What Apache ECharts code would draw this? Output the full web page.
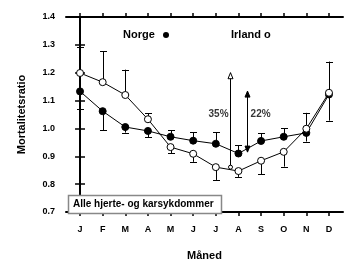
<!DOCTYPE html>
<html>
<head>
<meta charset="utf-8">
<script src="https://cdn.jsdelivr.net/npm/echarts@6/dist/echarts.min.js"></script>
<style>
  html, body { margin: 0; padding: 0; background: #fff; }
  #chart { width: 353px; height: 266px; }
</style>
</head>
<body>
<div id="chart"></div>
<script>
// måneder
const months = ['J', 'F', 'M', 'A', 'M', 'J', 'J', 'A', 'S', 'O', 'N', 'D'];
const monthIdx = [0, 1, 2, 3, 4, 5, 6, 7, 8, 9, 10, 11];

// mortalitetsratio pr. måned
const norge  = [1.133, 1.062, 1.005, 0.991, 0.970, 0.956, 0.945, 0.910, 0.955, 0.970, 0.984, 1.122];
const irland = [1.199, 1.166, 1.120, 1.033, 0.933, 0.909, 0.861, 0.847, 0.884, 0.916, 0.999, 1.128];

// endepunkt for feilstolper (ensidig, unntatt desember)
const norgeErr  = [1.068, 0.993, 0.985, 0.968, 0.993, 0.987, 0.987, 0.939, 0.982, 1.001, 0.953, 1.028];
const irlandErr = [1.292, 1.277, 1.211, 1.054, 0.910, 0.880, 0.815, 0.826, 0.836, 0.863, 1.056, 1.240];

// piler: [x, fra, til]
const arrowOpen   = [[6.62, 0.861, 1.200]];
const arrowFilled = [[7.36, 0.915, 1.134]];

// prosenttekster: [x, y, tekst]
const pctLabels = [[6.12, 1.050, '35%'], [7.98, 1.050, '22%']];

const chart = echarts.init(document.getElementById('chart'));

const errData = (vals, ends) => vals.map((v, i) => [monthIdx[i], v, ends[i]]);

// halv piksel for skarpe 1px-linjer
const crisp = v => Math.round(v) + 0.5;

/**
 * tegner en feilstolpe med tverrstrek på enden
 */
function renderErr(params, api) {
  const x = api.value(0);
  const p1 = api.coord([x, api.value(1)]);
  const p2 = api.coord([x, api.value(2)]);
  const cx = crisp(p1[0]);
  const w = 3.5;
  const st = { stroke: '#000', lineWidth: 1 };
  return {
    type: 'group',
    children: [
      { type: 'line', shape: { x1: cx, y1: p1[1], x2: cx, y2: p2[1] }, style: st },
      { type: 'line', shape: { x1: cx - w, y1: crisp(p2[1]), x2: cx + w, y2: crisp(p2[1]) }, style: st }
    ]
  };
}

/**
 * pil med åpen eller fylt spiss
 */
function makeArrowRenderer(filled) {
  return function (params, api) {
    const x = api.value(0);
    const lo = api.coord([x, api.value(1)]);
    const hi = api.coord([x, api.value(2)]);
    const cx = crisp(lo[0]);
    const hw = 2.5, hh = 6;
    const headStyle = { fill: filled ? '#000' : '#fff', stroke: '#000', lineWidth: 1 };
    const children = [
      { type: 'line', shape: { x1: cx, y1: lo[1], x2: cx, y2: hi[1] }, style: { stroke: '#000', lineWidth: 1 } },
      { type: 'polygon', shape: { points: [[cx, hi[1]], [cx - hw, hi[1] + hh], [cx + hw, hi[1] + hh]] }, style: headStyle }
    ];
    if (filled) {
      children.push({ type: 'polygon', shape: { points: [[cx, lo[1]], [cx - hw, lo[1] - hh], [cx + hw, lo[1] - hh]] }, style: headStyle });
    } else {
      children.push({ type: 'circle', shape: { cx: cx, cy: lo[1], r: 2 }, style: headStyle });
    }
    return { type: 'group', children: children };
  };
}

const boldFont = { fontFamily: 'Liberation Sans', fontWeight: 'bold', color: '#000' };

const option = {
  backgroundColor: '#fff',
  animation: false,
  grid: { left: 66, right: 10, top: 17, bottom: 46 },
  xAxis: [
    {
      type: 'value', position: 'bottom', min: -0.62, max: 11.62,
      name: 'Måned', nameLocation: 'middle', nameGap: 38,
      nameTextStyle: Object.assign({ fontSize: 11 }, boldFont),
      axisLine: { lineStyle: { color: '#000', width: 2 } },
      axisTick: { show: true, length: 4, customValues: monthIdx, lineStyle: { color: '#000', width: 1.5 } },
      axisLabel: Object.assign({ fontSize: 9, margin: 13, customValues: monthIdx, formatter: v => months[Math.round(v)] }, boldFont),
      splitLine: { show: false }
    },
    {
      type: 'value', position: 'top', min: -0.62, max: 11.62,
      axisLine: { lineStyle: { color: '#000', width: 2 } },
      axisTick: { show: true, length: 4, customValues: monthIdx, lineStyle: { color: '#000', width: 1.5 } },
      axisLabel: { show: false },
      splitLine: { show: false }
    }
  ],
  yAxis: [
    {
      type: 'value', position: 'left', min: 0.7, max: 1.4, interval: 0.1,
      name: 'Mortalitetsratio', nameLocation: 'middle', nameGap: 39,
      nameTextStyle: Object.assign({ fontSize: 11 }, boldFont),
      axisLine: { show: true, lineStyle: { color: '#000', width: 2 } },
      axisTick: { show: true, length: 5, lineStyle: { color: '#000', width: 1.5 } },
      axisLabel: Object.assign({ fontSize: 9, margin: 11, formatter: v => v.toFixed(1) }, boldFont),
      splitLine: { show: false }
    },
    {
      type: 'value', position: 'right', min: 0.7, max: 1.4, interval: 0.1,
      axisLine: { show: true, lineStyle: { color: '#000', width: 2 } },
      axisTick: { show: true, length: 5, lineStyle: { color: '#000', width: 1.5 } },
      axisLabel: { show: false },
      splitLine: { show: false }
    }
  ],
  series: [
    {
      type: 'custom', name: 'norgeErr', renderItem: renderErr, z: 1,
      encode: { x: 0, y: [1, 2] }, data: errData(norge, norgeErr)
    },
    {
      type: 'custom', name: 'irlandErr', renderItem: renderErr, z: 1,
      encode: { x: 0, y: [1, 2] }, data: errData(irland, irlandErr)
    },
    {
      type: 'custom', name: 'pilApen', renderItem: makeArrowRenderer(false), z: 1,
      encode: { x: 0, y: [1, 2] }, data: arrowOpen
    },
    {
      type: 'custom', name: 'pilFylt', renderItem: makeArrowRenderer(true), z: 1,
      encode: { x: 0, y: [1, 2] }, data: arrowFilled
    },
    {
      type: 'line', name: 'Norge', z: 3,
      data: norge.map((v, i) => [monthIdx[i], v]),
      symbol: 'circle', symbolSize: 7,
      lineStyle: { color: '#000', width: 1 },
      itemStyle: { color: '#000', borderColor: '#000', borderWidth: 1 }
    },
    {
      type: 'line', name: 'Irland', z: 4,
      data: irland.map((v, i) => [monthIdx[i], v]),
      symbol: 'circle', symbolSize: 7,
      lineStyle: { color: '#000', width: 1 },
      itemStyle: { color: '#fff', borderColor: '#000', borderWidth: 1 }
    },
    {
      type: 'scatter', name: 'pct', symbolSize: 0, z: 5,
      data: pctLabels.map(d => ({ value: [d[0], d[1]], label: { formatter: d[2] } })),
      label: Object.assign({ show: true, position: 'inside', fontSize: 10 }, boldFont),
      silent: true
    }
  ],
  graphic: [
    { type: 'text', left: 123, top: 29, style: Object.assign({ text: 'Norge', fontSize: 11 }, boldFont, { fill: '#000' }) },
    { type: 'circle', shape: { cx: 166, cy: 35, r: 3 }, style: { fill: '#000' } },
    { type: 'text', left: 231, top: 29, style: Object.assign({ text: 'Irland o', fontSize: 11 }, boldFont, { fill: '#000' }) },
    {
      type: 'rect', shape: { x: 68.5, y: 195.5, width: 153, height: 18 },
      style: { fill: '#fff', stroke: '#888', lineWidth: 1.5 }, z: 10
    },
    { type: 'text', left: 73, top: 199, z: 11, style: Object.assign({ text: 'Alle hjerte- og karsykdommer', fontSize: 10 }, boldFont, { fill: '#000' }) }
  ]
};

chart.setOption(option);
</script>
</body>
</html>
